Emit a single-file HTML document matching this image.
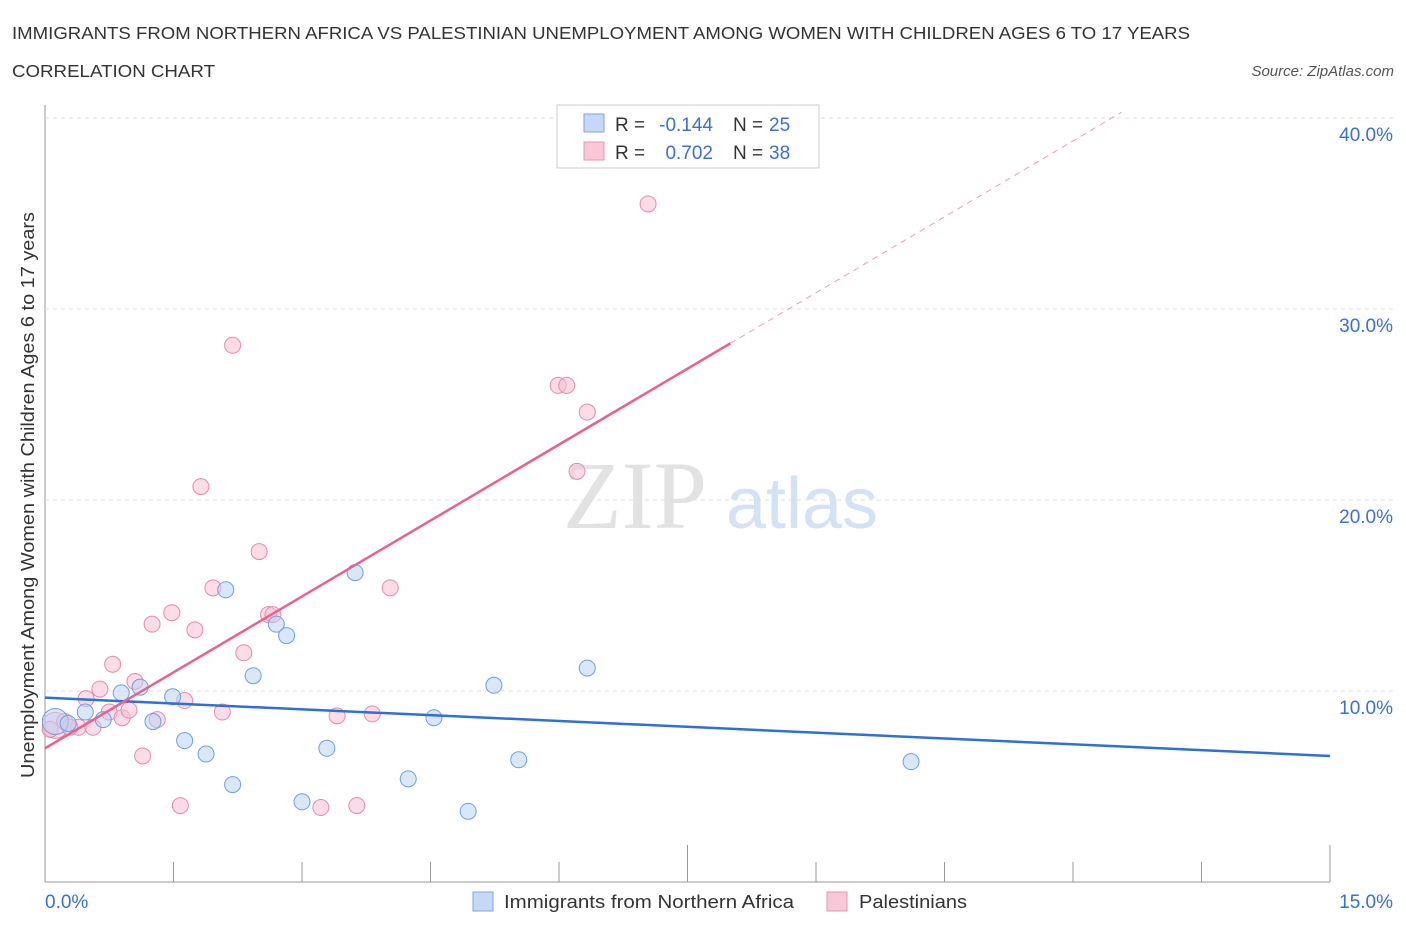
<!DOCTYPE html>
<html><head><meta charset="utf-8"><style>
body{margin:0;background:#fff;font-family:"Liberation Sans",sans-serif;}
</style></head><body>
<svg id="c" width="1406" height="930" font-family="Liberation Sans, sans-serif">
<text x="12" y="39" font-size="17.5" fill="#333" textLength="1178" lengthAdjust="spacingAndGlyphs">IMMIGRANTS FROM NORTHERN AFRICA VS PALESTINIAN UNEMPLOYMENT AMONG WOMEN WITH CHILDREN AGES 6 TO 17 YEARS</text>
<text x="12" y="77" font-size="17.5" fill="#333" textLength="203" lengthAdjust="spacingAndGlyphs">CORRELATION CHART</text>
<text x="1394" y="76" font-size="15" fill="#555" font-style="italic" text-anchor="end">Source: ZipAtlas.com</text>
<text x="635" y="528" font-size="96" fill="#e2e2e2" style="font-family:'Liberation Serif',serif" text-anchor="middle">ZIP</text>
<text x="802" y="528" font-size="72" fill="#d4e2f5" text-anchor="middle">atlas</text>
<text transform="translate(34,495) rotate(-90)" font-size="18" fill="#333" text-anchor="middle" textLength="566" lengthAdjust="spacingAndGlyphs">Unemployment Among Women with Children Ages 6 to 17 years</text>
<g id="grid"></g><g id="marks"></g>
<g>
<rect x="557" y="105" width="262" height="63" fill="#fff" stroke="#ccc"/>
<rect x="584" y="114" width="20" height="18" fill="#c5d8f5" stroke="#7aa6e6"/>
<text x="615" y="131" font-size="19" fill="#333">R =</text>
<text x="713" y="131" font-size="19" fill="#3a6fd6" text-anchor="end">-0.144</text>
<text x="733" y="131" font-size="19" fill="#333">N =</text>
<text x="769" y="131" font-size="19" fill="#3a6fd6">25</text>
<rect x="584" y="142" width="20" height="18" fill="#f8c8d8" stroke="#e895b2"/>
<text x="615" y="159" font-size="19" fill="#333">R =</text>
<text x="713" y="159" font-size="19" fill="#3a6fd6" text-anchor="end">0.702</text>
<text x="733" y="159" font-size="19" fill="#333">N =</text>
<text x="769" y="159" font-size="19" fill="#3a6fd6">38</text>
</g>
<g>
<rect x="473" y="892" width="20" height="19" fill="#c5d8f5" stroke="#7aa6e6"/>
<text x="504" y="908" font-size="18.5" fill="#333" textLength="290" lengthAdjust="spacingAndGlyphs">Immigrants from Northern Africa</text>
<rect x="827" y="892" width="20" height="19" fill="#f8c8d8" stroke="#e895b2"/>
<text x="859" y="908" font-size="18.5" fill="#333" textLength="108" lengthAdjust="spacingAndGlyphs">Palestinians</text>
</g>
</svg>
<script>
const yTicks=[10,20,30,40];
const xTickLabels=["0.0%","15.0%"];
const blueX=[0.12,0.27,0.47,0.68,0.89,1.11,1.26,1.49,1.63,1.88,2.11,2.19,2.43,2.70,2.82,3.00,3.29,3.62,4.24,4.54,4.94,5.24,5.53,6.33,10.11];
const blueY=[8.4,8.3,8.9,8.5,9.9,10.2,8.4,9.7,7.4,6.7,15.3,5.1,10.8,13.5,12.9,4.2,7.0,16.2,5.4,8.6,3.7,10.3,6.4,11.2,6.3];
const pinkX=[0.12,0.23,0.39,0.48,0.56,0.64,0.75,0.79,0.90,0.98,1.05,1.14,1.25,1.31,1.48,1.58,1.63,1.75,1.82,1.96,2.07,2.19,2.32,2.50,2.61,2.66,3.22,3.41,3.64,3.82,4.03,5.99,6.09,6.21,6.33,7.04,0.06,0.29];
const pinkY=[8.2,8.4,8.1,9.6,8.1,10.1,8.9,11.4,8.6,9.0,10.5,6.6,13.5,8.5,14.1,4.0,9.5,13.2,20.7,15.4,8.9,28.1,12.0,17.3,14.0,14.0,3.9,8.7,4.0,8.8,15.4,26.0,26.0,21.5,24.6,35.5,8.0,8.1];
const blueFit=[9.65,6.6], pinkFit=[7.0,28.2], pinkFitX=8.0;
const NS="http://www.w3.org/2000/svg";
const X=v=>45+v/15*1285, Y=v=>882-v*19.1;
const grid=document.getElementById('grid'), marks=document.getElementById('marks');
function mk(tag,at,parent){const e=document.createElementNS(NS,tag);for(const k in at)e.setAttribute(k,at[k]);parent.appendChild(e);return e;}
let ax=mk('line',{x1:45,y1:105,x2:45,y2:882,stroke:'#999'},grid);


let bx=mk('line',{x1:45,y1:882,x2:1330,y2:882,stroke:'#999'},grid);


for(let i=0;i<=10;i++){let xp=45+i*128.5;let t=mk('line',{x1:xp,y1:882,x2:xp,y2:i%5==0&&i>0?845:862,stroke:'#999'},grid);

}
yTicks.forEach(v=>{let g=mk('line',{x1:45,y1:Y(v),x2:1394,y2:Y(v),stroke:'#ddd','stroke-dasharray':'4,4'},grid);


let t=mk('text',{x:1393,y:Y(v)+23,'font-size':19,fill:'#3a6fd6','text-anchor':'end'},grid);t.textContent=v.toFixed(1)+'%';

});
xTickLabels.forEach((s,i)=>{let t=mk('text',{x:i?1393:45,y:908,'font-size':19,fill:'#3a6fd6','text-anchor':i?'end':'start'},grid);t.textContent=s;

});
function pts(xs,ys,fill,stroke,name){xs.forEach((x,i)=>{let c=mk('circle',{cx:X(x),cy:Y(ys[i]),r:i==0?13:8,fill:fill,'fill-opacity':0.55,stroke:stroke,'stroke-width':1},marks);

});}
pts(pinkX,pinkY,'#f8c0d4','#e88aab','point-palestinians');
pts(blueX,blueY,'#bcd3f4','#6f9fe0','point-immigrants');
let bl=mk('line',{x1:X(0),y1:Y(blueFit[0]),x2:X(15),y2:Y(blueFit[1]),stroke:'#2f6fd8','stroke-width':2.5},marks);


const slope=(pinkFit[1]-pinkFit[0])/pinkFitX;
let pl=mk('line',{x1:X(0),y1:Y(pinkFit[0]),x2:X(pinkFitX),y2:Y(pinkFit[1]),stroke:'#e8628f','stroke-width':2.5},marks);


const xe=(40.3-pinkFit[0])/slope;
let pd=mk('line',{x1:X(pinkFitX),y1:Y(pinkFit[1]),x2:X(xe),y2:Y(40.3),stroke:'#e8a0b8','stroke-width':1,'stroke-dasharray':'6,5'},marks);


</script>
</body></html>
